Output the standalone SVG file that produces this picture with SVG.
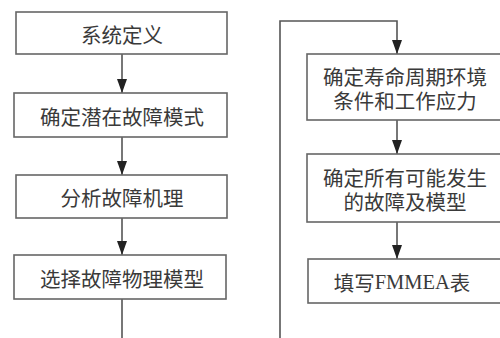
<svg xmlns="http://www.w3.org/2000/svg" width="500" height="338" viewBox="0 0 500 338">
<style>
.box{fill:#fff;stroke:#666;stroke-width:1.6}
.ln{fill:none;stroke:#555;stroke-width:1.6}
.t{font-family:"Noto Sans CJK SC","Noto Sans",sans-serif;font-size:20.5px;fill:#3a3a3a;text-anchor:middle;dominant-baseline:central}
.s{font-family:"Liberation Serif",serif}
</style>
<defs>
<marker id="ah" viewBox="0 0 10 14" refX="10" refY="5" markerWidth="10" markerHeight="14" markerUnits="userSpaceOnUse" orient="auto">
<path d="M0,0 L10,5 L0,10 Z" fill="#222"/>
</marker>
<marker id="arr" viewBox="0 0 14 10" refX="14" refY="5" markerWidth="14" markerHeight="10" markerUnits="userSpaceOnUse" orient="auto">
<path d="M0,0 L14,5 L0,10 Z" fill="#222"/>
</marker>
</defs>
<rect width="500" height="338" fill="#fff"/>
<g id="connectors">
<line class="ln" x1="122" y1="54" x2="122" y2="93" marker-end="url(#arr)"/>
<line class="ln" x1="122" y1="137" x2="122" y2="175" marker-end="url(#arr)"/>
<line class="ln" x1="122" y1="218" x2="122" y2="255" marker-end="url(#arr)"/>
<line class="ln" x1="122" y1="299" x2="122" y2="338"/>
<polyline class="ln" points="280,338 280,21 397,21 397,54" marker-end="url(#arr)"/>
<line class="ln" x1="397" y1="120" x2="397" y2="154" marker-end="url(#arr)"/>
<line class="ln" x1="397" y1="222" x2="397" y2="259" marker-end="url(#arr)"/>
</g>
<g id="n1"><rect class="box" x="16" y="12" width="211" height="42"/><text class="t" x="122" y="34">系统定义</text></g>
<g id="n2"><rect class="box" x="14" y="93" width="213" height="44"/><text class="t" x="122" y="116">确定潜在故障模式</text></g>
<g id="n3"><rect class="box" x="16" y="175" width="211" height="43"/><text class="t" x="122" y="197">分析故障机理</text></g>
<g id="n4"><rect class="box" x="14" y="255" width="212" height="44"/><text class="t" x="122" y="278">选择故障物理模型</text></g>
<g id="n5"><rect class="box" x="307" y="54" width="210" height="66"/><text class="t" x="405" y="76">确定寿命周期环境</text><text class="t" x="405" y="100">条件和工作应力</text></g>
<g id="n6"><rect class="box" x="307" y="154" width="210" height="68"/><text class="t" x="405" y="177">确定所有可能发生</text><text class="t" x="405" y="201">的故障及模型</text></g>
<g id="n7"><rect class="box" x="308" y="259" width="210" height="44"/><text class="t" x="402" y="282">填写<tspan class="s">FMMEA</tspan>表</text></g>
</svg>
